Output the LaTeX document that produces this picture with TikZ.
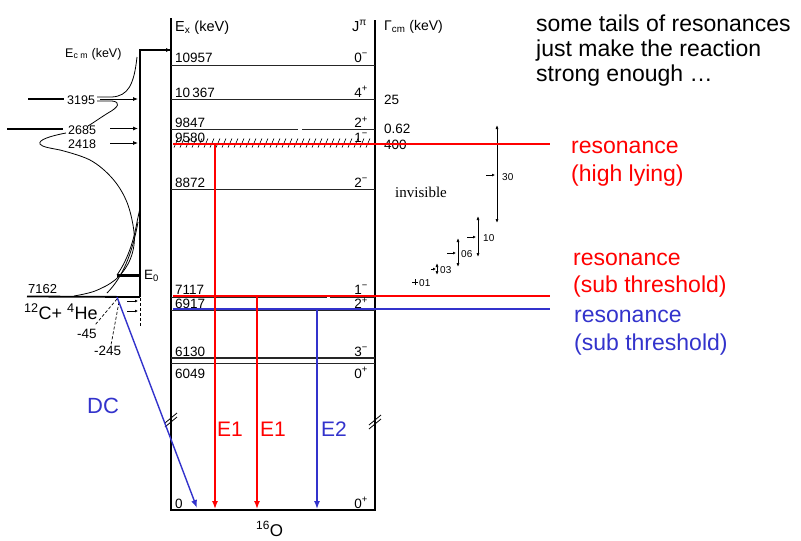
\documentclass[tikz,border=0pt]{standalone}
\usepackage{fontspec}
\setmainfont{Liberation Sans}
\newfontfamily\serifft{Liberation Serif}
\usetikzlibrary{arrows.meta}
\definecolor{myred}{RGB}{255,0,0}
\definecolor{myblue}{RGB}{51,51,204}
\newcommand{\smin}{\textsuperscript{\char"2212}}
\newcommand{\splus}{\textsuperscript{+}}
\begin{document}
\begin{tikzpicture}[x=1pt,y=-1pt,
  lvl/.style={line width=0.9pt,black!85},
  boxline/.style={line width=1.6pt},
  lab/.style={font=\fontsize{13.5}{14}\selectfont,inner sep=0pt,anchor=base west},
  spin/.style={font=\fontsize{13.5}{14}\selectfont,inner sep=0pt,anchor=base east},
  small/.style={font=\fontsize{12.5}{13}\selectfont,inner sep=0pt,anchor=base west},
  tiny/.style={font=\fontsize{10}{10}\selectfont,inner sep=0pt,anchor=base west},
  big/.style={font=\fontsize{23}{23}\selectfont,inner sep=0pt,anchor=base west},
  gam/.style={font=\fontsize{21}{21}\selectfont,inner sep=0pt,anchor=base west},
  arr/.style={-{Latex[length=8pt,width=6pt]},line width=1.4pt},
  hin/.style={-{Latex[length=5pt,width=4pt]},line width=0.8pt},
  wid/.style={{Latex[length=4pt,width=3pt]}-{Latex[length=4pt,width=3pt]},line width=0.7pt},
  ptr/.style={-{Latex[length=3pt,width=3pt]},line width=0.7pt},
  curve/.style={line width=0.8pt},
  dsh/.style={dashed,line width=0.7pt,dash pattern=on 3pt off 2pt}]
\useasboundingbox (0,0) rectangle (801,541);
\fill[white] (0,0) rectangle (801,541);

% ---------- level scheme box ----------
\coordinate (bl) at (171,510);
\coordinate (br) at (375,510);
\coordinate (tl) at (171,18);
\coordinate (tr) at (375,20);
\draw[boxline] (tl) -- (bl) -- (br) -- (tr);
% break marks
\draw[line width=0.8pt] (165,423) -- (177,413) (165,427) -- (177,417);
\draw[line width=0.8pt] (369,425) -- (381,415) (369,429) -- (381,419);

% levels
\draw[lvl] (171,65) -- (375,65);
\draw[lvl] (171,99) -- (375,99);
\draw[lvl] (171,129.5) -- (298,129.5) (302,129.5) -- (375,129.5);
\draw[lvl] (171,189) -- (375,189);
\draw[lvl] (171,297.5) -- (327,297.5) (330,297.5) -- (375,297.5);
\draw[lvl] (171,310) -- (375,310);
\draw[lvl,line width=1.3pt] (171,358) -- (375,358);
\draw[lvl] (171,363) -- (375,363);
% hatching of the broad 9580 state
\foreach \x in {174,180,...,370} \draw[line width=0.6pt] (\x,147.5) -- (\x+4,138.5);

% headers
\node[lab,font=\fontsize{14.5}{15}\selectfont] (hex) at (175,31) {E\textsubscript{x} (keV)};
\node[lab,font=\fontsize{14.5}{15}\selectfont] (hj) at (352,31) {J\textsuperscript{π}};
\node[lab,font=\fontsize{14}{15}\selectfont] (hg) at (384,30) {Γ\textsubscript{cm} (keV)};

% level labels
\node[lab] (l1) at (175,62) {10957};
\node[lab] (l2) at (175,97) {10\,367};
\node[lab] (l3) at (175,127.5) {9847};
\node[lab] (l4) at (175,142) {9580};
\node[lab] (l5) at (175,187) {8872};
\node[lab] (l6) at (175,294) {7117};
\node[lab] (l7) at (175,308.5) {6917};
\node[lab] (l8) at (175,356) {6130};
\node[lab] (l9) at (175,378) {6049};
\node[lab] (l10) at (175,508) {0};
% spins
\node[spin] (s1) at (368,62) {0\smin};
\node[spin] (s2) at (368,97) {4\splus};
\node[spin] (s3) at (368,127.5) {2\splus};
\node[spin] (s4) at (368,142) {1\smin};
\node[spin] (s5) at (368,187) {2\smin};
\node[spin] (s6) at (368,294) {1\smin};
\node[spin] (s7) at (368,308.5) {2\splus};
\node[spin] (s8) at (368,356) {3\smin};
\node[spin] (s9) at (368,378) {0\splus};
\node[spin] (s10) at (368,508) {0\splus};
% widths
\node[lab] (g1) at (384,104) {25};
\node[lab] (g2) at (384,133) {0.62};
\node[lab] (g3) at (384,149) {400};
% nucleus
\node[font=\fontsize{17}{17}\selectfont,inner sep=0pt,anchor=base west] (nuc) at (256,536) {\textsuperscript{16}O};

% ---------- left part: E_cm axis ----------
\coordinate (ax0) at (140,297);
\coordinate (ax1) at (140,50);
\coordinate (axe) at (171,50);
\draw[line width=1.8pt] (ax0) -- (ax1) -- (axe);
\draw[hin] (155,50) -- (axe);
\node[lab,font=\fontsize{12.5}{13}\selectfont] (ecm) at (65,57) {E\textsubscript{c m} (keV)};
% resonance energies
\node[small] (e1) at (67,104) {3195};
\node[small] (e2) at (68,134) {2685};
\node[small] (e3) at (68,148) {2418};
\coordinate (a1) at (138,99);
\coordinate (a2) at (138,128.5);
\coordinate (a3) at (138,143);
\draw[hin] (100,99) -- (a1);
\draw[hin] (110,128.5) -- (a2);
\draw[hin] (110,143) -- (a3);
\draw[line width=1.8pt] (28,99) -- (64,99);
\draw[line width=1.8pt] (7,129) -- (63,129);
% curves
\draw[curve] (137,57) .. controls (134,85) and (128,96) .. (112,97) -- (97,97);
\draw[curve] (97,101) -- (112,101) .. controls (121,102) and (119,107) .. (108,113)
  .. controls (100,118) and (93,123) .. (88,126);
\draw[curve] (66,133) .. controls (50,136) and (38,140) .. (40,144)
  .. controls (42,147) and (50,148) .. (60,150);
\draw[curve] plot[smooth,tension=0.6] coordinates {(60,150) (90,160) (112,178) (126,200) (133,225) (134,245) (128,264) (115,280) (95,291) (74,296)};
\draw[curve] (140,208) -- (137,222) .. controls (133,245) and (126,262) .. (117,275);
\draw[curve] (138,222) .. controls (132,255) and (122,278) .. (107,293);
\draw[line width=3pt] (117,275) -- (140,275);
\node[lab] (e0) at (144,279) {E\textsubscript{0}};
% threshold
\coordinate (t0) at (27,296.5);
\draw[line width=1.8pt] (t0) -- (ax0);
\node[lab,font=\fontsize{13}{13}\selectfont] (th) at (28,293) {7162};
\node[font=\fontsize{18}{18}\selectfont,inner sep=0pt,anchor=base west] (ch) at (24,319) {\textsuperscript{12}C+ \textsuperscript{4}He};
\draw[dsh] (140,298) -- (140,326);
\draw[ptr] (127,301) -- (138,301);
\draw[ptr] (127,311) -- (138,311);
\draw[dsh] (117,299) -- (95,325);
\draw[dsh] (119,302) -- (111,345);
\node[lab,font=\fontsize{13.5}{14}\selectfont] (m45) at (77,338) {-45};
\node[lab,font=\fontsize{13.5}{14}\selectfont] (m245) at (94,355) {-245};

% ---------- width plot ----------
\draw[wid] (497,125) -- (497,223);
\draw[ptr] (486,175) -- (495,175);
\node[tiny] (w30) at (502,180) {30};
\draw[wid] (478,216) -- (478,257);
\draw[ptr] (467,237) -- (476,237);
\node[tiny] (w10) at (483,241) {10};
\draw[wid] (458,238) -- (458,267);
\draw[ptr] (447,253) -- (456,253);
\node[tiny] (w06) at (461,257) {06};
\draw[wid] (437,263) -- (437,275);
\draw[ptr] (431,269) -- (436,269);
\node[tiny] (w03) at (440,273) {03};
\draw[line width=0.8pt] (412,282) -- (418,282) (415,279) -- (415,285);
\node[tiny] (w01) at (419,286) {01};
\node[font=\serifft\fontsize{15}{15}\selectfont,inner sep=0pt,anchor=base west] (inv) at (395,197) {invisible};

% ---------- coloured overlays ----------
\coordinate (rh0) at (173,144);
\coordinate (rh1) at (550,144);
\coordinate (rs0) at (173,296);
\coordinate (rs1) at (550,296);
\coordinate (bs0) at (173,309);
\coordinate (bs1) at (550,309);
\draw[myred,line width=1.5pt] (rh0) -- (rh1);
\draw[myred,line width=1.5pt] (rs0) -- (rs1);
\draw[myblue,line width=1.5pt] (bs0) -- (bs1);

\coordinate (g1s) at (215,144);
\coordinate (g1e) at (215,509);
\coordinate (g2s) at (257,296);
\coordinate (g2e) at (257,509);
\coordinate (g3s) at (317,309);
\coordinate (g3e) at (317,509);
\coordinate (dcs) at (117,297);
\coordinate (dce) at (197,508);
\draw[arr,myred] (g1s) -- (g1e);
\draw[arr,myred] (g2s) -- (g2e);
\draw[arr,myblue] (g3s) -- (g3e);
\draw[arr,myblue] (dcs) -- (dce);
\node[gam,text=myred] (t1) at (217,436) {E1};
\node[gam,text=myred] (t2) at (260,436) {E1};
\node[gam,text=myblue] (t3) at (321,436) {E2};
\node[big,font=\fontsize{22}{22}\selectfont,text=myblue] (dc) at (87,413) {DC};

% ---------- right texts ----------
\node[big,text=myred] (rh) at (571,153) {resonance};
\node[big,text=myred] (rhb) at (571,181) {(high lying)};
\node[big,text=myred] (rs) at (573,265) {resonance};
\node[big,text=myred] (rsb) at (573,292) {(sub threshold)};
\node[big,text=myblue] (bs) at (574,322) {resonance};
\node[big,text=myblue] (bsb) at (574,350) {(sub threshold)};
\node[big] (n1) at (536,31.5) {some tails of resonances};
\node[big] (n2) at (536,56.5) {just make the reaction};
\node[big] (n3) at (536,81.5) {strong enough …};
\end{tikzpicture}
\end{document}
